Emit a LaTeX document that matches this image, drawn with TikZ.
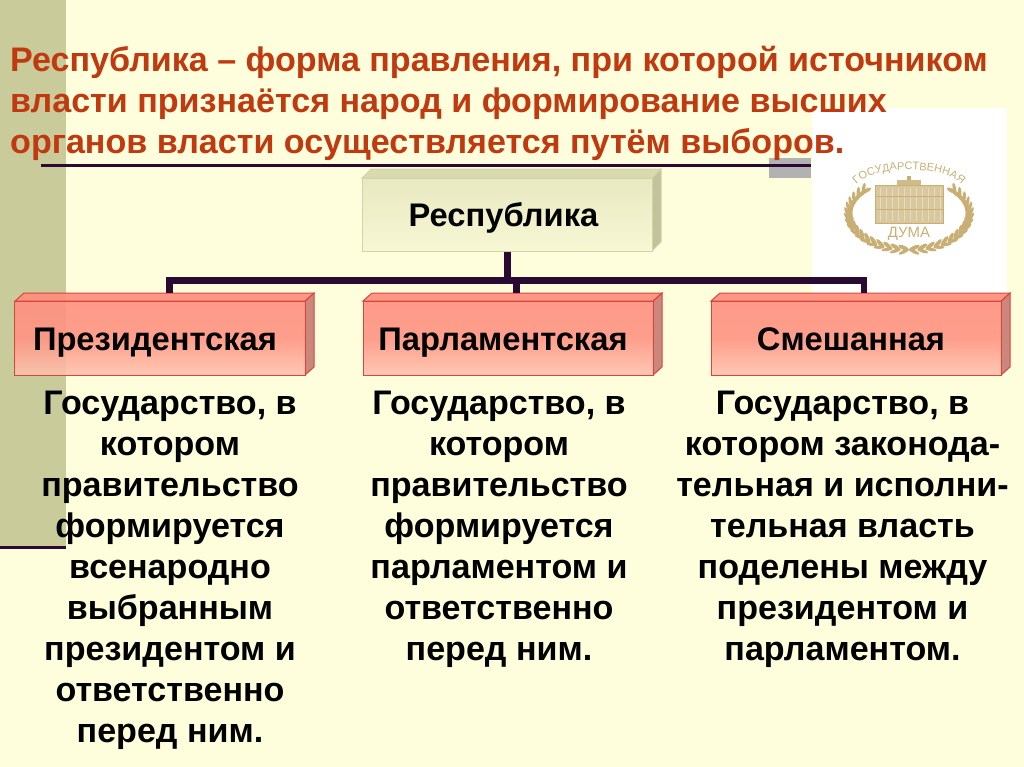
\documentclass[tikz,border=0pt]{standalone}
\usepackage{fontspec}
\setmainfont{Liberation Sans}
\usetikzlibrary{decorations.text}
\definecolor{bgc}{HTML}{FEFEDD}
\definecolor{bandc}{HTML}{C9CB9B}
\definecolor{titlec}{HTML}{C0390F}
\definecolor{linec}{HTML}{2A0A33}
\definecolor{gold}{HTML}{C9AF74}
\definecolor{edgered}{HTML}{D8453C}
\definecolor{salmon}{HTML}{FF8C7C}
\definecolor{palebot}{HTML}{FDEFD8}
\pgfdeclareverticalshading{redbox}{100bp}{
 color(0bp)=(palebot);
 color(25bp)=(salmon!45!palebot);
 color(50bp)=(salmon!92!palebot);
 color(100bp)=(salmon)}
\pgfdeclareverticalshading{greenbox}{100bp}{
 color(0bp)=(bgc);
 color(100bp)=(bandc!55!bgc)}
\tikzset{
 boxfont/.style={text height=28bp,text depth=4bp,inner sep=0pt,font=\fontsize{32.8}{34}\selectfont\bfseries},
 frontred/.style={boxfont,draw=edgered,line width=1bp,shading=redbox,fill opacity=.9,text opacity=1,minimum width=290bp,minimum height=74bp},
 frontgreen/.style={boxfont,draw=bandc!85!white,line width=1bp,shading=greenbox,minimum width=290bp,minimum height=73bp},
 sidered/.style={draw=edgered,line width=1bp,fill=salmon!60!gray},
 topred/.style={draw=edgered,line width=1bp,fill=salmon,fill opacity=.9},
 sidegreen/.style={draw=bandc!85!white,line width=1bp,fill=bandc!90!gray},
 topgreen/.style={draw=bandc!85!white,line width=1bp,fill=bandc!70!bgc},
 bodytext/.style={align=center,inner sep=0pt,font=\fontsize{34.2}{41.2}\selectfont\bfseries},
 titletext/.style={anchor=base west,inner sep=0pt,text=titlec,font=\fontsize{34.2}{36}\selectfont\bfseries},
 conn/.style={draw=linec,line width=6.5bp},
 rulestyle/.style={draw=linec,line width=2.5bp},
}
\begin{document}
\begin{tikzpicture}[x=1bp,y=-1bp]
\useasboundingbox (0,0) rectangle (1024,767);
\fill[bgc] (0,0) rectangle (1024,767);
\fill[bandc] (0,0) rectangle (66,548);
\fill[white] (812,108) rectangle (1007,293);
\fill[gray!60] (769,158) rectangle (811,178);
% rules
\coordinate (ra) at (41,165.5);
\coordinate (rb) at (811,165.5);
\draw[rulestyle] (ra) -- (rb);
\coordinate (rc) at (0,547);
\coordinate (rd) at (66,547);
\draw[rulestyle,line width=3bp] (rc) -- (rd);
% title
\node[titletext] (t1) at (10,71.5) {Республика – форма правления, при которой источником};
\node[titletext] (t2) at (10,112) {власти признаётся народ и формирование высших};
\node[titletext] (t3) at (10,153) {органов власти осуществляется путём выборов.};
% connector anchors
\coordinate (bus) at (507.5,280.5);
\coordinate (busl) at (169.5,280.5);
\coordinate (busm) at (516.5,280.5);
\coordinate (busr) at (864,280.5);
% boxes
\draw[sidegreen] (652,178) -- (661,169) -- (661,242) -- (652,251) -- cycle;
\draw[topgreen] (362,178) -- (371,169) -- (661,169) -- (652,178) -- cycle;
\node[frontgreen] (rep) at (507,214.5) {\hspace*{-7bp}Республика};
\draw[sidered] (305,301) -- (314,293) -- (314,367) -- (305,375) -- cycle;
\draw[topred] (15,301) -- (24,293) -- (314,293) -- (305,301) -- cycle;
\node[frontred] (pres) at (160,338) {\hspace*{-10bp}Президентская};
\draw[sidered] (653,301) -- (662,293) -- (662,367) -- (653,375) -- cycle;
\draw[topred] (363,301) -- (372,293) -- (662,293) -- (653,301) -- cycle;
\node[frontred] (parl) at (508,338) {\hspace*{-10bp}Парламентская};
\draw[sidered] (1001,301) -- (1010,293) -- (1010,367) -- (1001,375) -- cycle;
\draw[topred] (711,301) -- (720,293) -- (1010,293) -- (1001,301) -- cycle;
\node[frontred] (mix) at (856,338) {\hspace*{-10bp}Смешанная};
% connectors
\coordinate (presTop) at (169.5,293);
\coordinate (parlTop) at (516.5,293);
\coordinate (mixTop) at (864,293);
\draw[conn] (rep.south -| bus) -- (bus);
\draw[conn] ([xshift=-3.25bp]busl) -- ([xshift=3.25bp]busr);
\draw[conn] (busl) -- (presTop);
\draw[conn] (busm) -- (parlTop);
\draw[conn] (busr) -- (mixTop);
% body text
\node[bodytext] (bp) at (170,570.5) {Государство, в\\котором\\правительство\\формируется\\всенародно\\выбранным\\президентом и\\ответственно\\перед ним.};
\node[bodytext] (bm) at (499,529) {Государство, в\\котором\\правительство\\формируется\\парламентом и\\ответственно\\перед ним.};
\node[bodytext] (br) at (842.5,529) {Государство, в\\котором законода-\\тельная и исполни-\\тельная власть\\поделены между\\президентом и\\парламентом.};
% logo: wreath
\foreach \a in {95,103,...,223}{
  \pgfmathsetmacro{\px}{909+59*cos(\a)}
  \pgfmathsetmacro{\py}{214+34*sin(\a)}
  \pgfmathsetmacro{\qx}{909+62*cos(\a)}
  \pgfmathsetmacro{\qy}{214+38*sin(\a)}
  \fill[gold,rotate around={-\a+70:(\px,\py)}] (\px,\py) ellipse (6bp and 2bp);
  \fill[gold,rotate around={-\a+120:(\qx,\qy)}] (\qx,\qy) ellipse (5.5bp and 1.7bp);
}
\foreach \a in {-43,-35,...,85}{
  \pgfmathsetmacro{\px}{909+59*cos(\a)}
  \pgfmathsetmacro{\py}{214+34*sin(\a)}
  \pgfmathsetmacro{\qx}{909+62*cos(\a)}
  \pgfmathsetmacro{\qy}{214+38*sin(\a)}
  \fill[gold,rotate around={-\a-70:(\px,\py)}] (\px,\py) ellipse (6bp and 2bp);
  \fill[gold,rotate around={-\a-120:(\qx,\qy)}] (\qx,\qy) ellipse (5.5bp and 1.7bp);
}
% logo: building
\fill[gold!70!white] (875,185) rectangle (943,223);
\fill[gold!85!white] (897,180) rectangle (921,185);
\fill[gold] (907,176) rectangle (911,180);
\draw[gold,line width=1bp] (875,185) rectangle (943,223);
\foreach \x in {880,886,...,940}{\draw[white!55!gold,line width=.7bp] (\x,188) -- (\x,221);}
\draw[gold,line width=.8bp] (875,196) -- (943,196);
\draw[gold,line width=.8bp] (875,209) -- (943,209);
\node[inner sep=0pt,text=gold,font=\fontsize{15}{15}\selectfont] (duma) at (909,234) {ДУМА};
\path[decorate,decoration={text along path,text align=center,text={|\fontsize{11}{12}\selectfont\color{gold}|ГОСУДАРСТВЕННАЯ}}]
 (857,184) .. controls (875,165) and (943,165) .. (961,184);
\end{tikzpicture}
\end{document}
